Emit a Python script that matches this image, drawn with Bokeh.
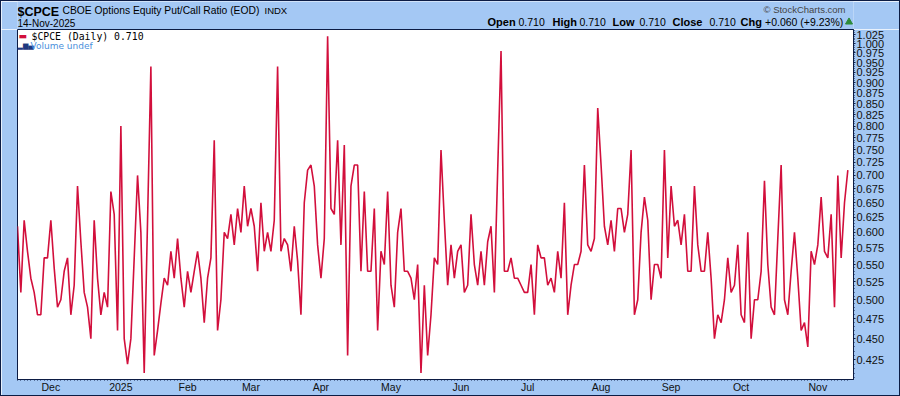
import pandas as pd
from bokeh.plotting import figure
from bokeh.layouts import column
from bokeh.models import Range1d, FixedTicker, NumeralTickFormatter, Label
from bokeh.core.properties import value
from bokeh.embed import file_html
from bokeh.resources import INLINE

# ---- data ($CPCE daily closes, 250 sessions ending 14-Nov-2025)
cpce = [
    0.61, 0.51, 0.62, 0.57, 0.53, 0.51, 0.48, 0.48, 0.56, 0.56, 0.62, 0.545, 0.49, 0.50,
    0.54, 0.56, 0.48, 0.52, 0.68, 0.585, 0.51, 0.49, 0.45, 0.62, 0.53, 0.48, 0.51, 0.49,
    0.67, 0.63, 0.46, 0.80, 0.45, 0.42, 0.45, 0.56, 0.70, 0.60, 0.41, 0.62, 0.94, 0.43,
    0.46, 0.495, 0.53, 0.52, 0.57, 0.53, 0.59, 0.53, 0.49, 0.54, 0.51, 0.54, 0.57, 0.53,
    0.47, 0.53, 0.56, 0.77, 0.46, 0.50, 0.60, 0.59, 0.63, 0.58, 0.64, 0.60, 0.68, 0.61,
    0.64, 0.61, 0.54, 0.65, 0.57, 0.60, 0.57, 0.62, 0.94, 0.57, 0.59, 0.58, 0.54, 0.61,
    0.555, 0.48, 0.65, 0.71, 0.72, 0.68, 0.58, 0.53, 0.59, 1.02, 0.64, 0.63, 0.77, 0.58,
    0.76, 0.43, 0.68, 0.72, 0.72, 0.54, 0.67, 0.54, 0.54, 0.64, 0.46, 0.57, 0.55, 0.67,
    0.52, 0.49, 0.60, 0.64, 0.54, 0.54, 0.53, 0.50, 0.55, 0.41, 0.52, 0.43, 0.48, 0.56,
    0.55, 0.75, 0.62, 0.52, 0.58, 0.53, 0.57, 0.58, 0.51, 0.52, 0.63, 0.55, 0.52, 0.57,
    0.52, 0.585, 0.61, 0.51, 0.71, 0.98, 0.54, 0.54, 0.56, 0.53, 0.53, 0.52, 0.51, 0.51,
    0.55, 0.48, 0.58, 0.56, 0.56, 0.52, 0.53, 0.51, 0.57, 0.53, 0.65, 0.48, 0.52, 0.55,
    0.55, 0.57, 0.72, 0.58, 0.57, 0.59, 0.84, 0.72, 0.61, 0.58, 0.62, 0.57, 0.64, 0.64,
    0.60, 0.63, 0.75, 0.48, 0.50, 0.60, 0.66, 0.62, 0.50, 0.55, 0.55, 0.53, 0.75, 0.56,
    0.68, 0.61, 0.62, 0.58, 0.63, 0.54, 0.54, 0.68, 0.58, 0.54, 0.54, 0.60, 0.53, 0.45,
    0.48, 0.47, 0.50, 0.56, 0.51, 0.52, 0.58, 0.48, 0.47, 0.60, 0.45, 0.50, 0.50, 0.54,
    0.69, 0.55, 0.49, 0.48, 0.59, 0.72, 0.50, 0.48, 0.54, 0.60, 0.53, 0.46, 0.47, 0.44,
    0.57, 0.55, 0.58, 0.66, 0.57, 0.56, 0.63, 0.49, 0.70, 0.56, 0.65, 0.71,
]
month_labels = ["Dec", "2025", "Feb", "Mar", "Apr", "May", "Jun", "Jul", "Aug", "Sep", "Oct", "Nov"]
y_ticks = [0.425, 0.45, 0.475, 0.5, 0.525, 0.55, 0.575, 0.6, 0.625, 0.65, 0.675, 0.7, 0.725,
           0.75, 0.775, 0.8, 0.825, 0.85, 0.875, 0.9, 0.925, 0.95, 0.975, 1.0, 1.025]
market_holidays = ["2024-11-28", "2024-12-25", "2025-01-01", "2025-01-09", "2025-01-20",
                   "2025-02-17", "2025-04-18", "2025-05-26", "2025-06-19", "2025-07-04",
                   "2025-09-01"]
quote_labels = ["Open", "High", "Low", "Close", "Chg"]
quote_values = ["0.710", "0.710", "0.710", "0.710", "+0.060 (+9.23%)"]

# trading-day calendar
days = [d for d in pd.bdate_range("2024-10-01", "2025-11-14")
        if d.strftime("%Y-%m-%d") not in market_holidays][-len(cpce):]
xs = list(range(len(cpce)))
month_idx = [i for i in range(1, len(days)) if days[i].month != days[i - 1].month]

BG = "#a4c8f4"
NAVY = "#0c1c44"
LINE = "#d20f3c"
W = 898                 # + 1px CSS border on each side = 900 x 396
HEAD_H, MAIN_H = 28, 366
FL, FR, FB = 17, 853, 379   # frame left / right / bottom in page pixels
DY = 3                  # svg alphabetic baseline lands ~3px low

# ---------------- header strip (page-pixel coordinates over the aligned frame)
head = figure(width=W, height=HEAD_H, x_range=Range1d(FL, FR), y_range=Range1d(1 + HEAD_H, 1),
              output_backend="svg", toolbar_location=None, title=None,
              x_axis_location=None, y_axis_location=None,
              min_border_left=16, min_border_right=46, min_border_top=0, min_border_bottom=0)
head.grid.visible = False
head.outline_line_color = None
head.background_fill_color = BG
head.border_fill_color = BG


def htext(xs_, ys_, texts, size, bold=False, color="#000000"):
    head.text(x=xs_, y=[v - DY for v in ys_], text=texts, text_font=value("Liberation Sans"),
              text_font_size=value(f"{size}px"),
              text_font_style=value("bold" if bold else "normal"),
              text_color=color, text_baseline="alphabetic", text_align="left")


htext([17], [14], ["$CPCE"], 12.5, bold=True)
htext([62], [13], ["CBOE Options Equity Put/Call Ratio (EOD)"], 10.3)
htext([264], [13], ["INDX"], 9.5)
htext([17], [26], ["14-Nov-2025"], 10)
htext([763], [12], ["\u00a9 StockCharts.com"], 9.5, color="#444444")
htext([487, 552, 612, 672, 740], [24] * 5, quote_labels, 11, bold=True)
htext([518, 579, 639, 709, 764.5], [24] * 5, quote_values, 10.5)
head.scatter([848.5], [21.5], marker="triangle", size=7, color="#2e8b3a")

# ---------------- main chart
p = figure(width=W, height=MAIN_H, y_axis_type="log", y_axis_location="right",
           x_range=Range1d(0, 250.7), y_range=Range1d(0.4029, 1.039),
           output_backend="svg", toolbar_location=None, title=None,
           min_border_left=16, min_border_right=46, min_border_top=0, min_border_bottom=16)
p.background_fill_color = "white"
p.border_fill_color = BG
p.outline_line_color = NAVY
p.outline_line_width = 1
p.grid.visible = False

p.line(xs, cpce, color=LINE, line_width=1.6)

# x axis
xa = p.xaxis[0]
xa.ticker = FixedTicker(ticks=month_idx, minor_ticks=xs)
xa.major_label_overrides = {i: lbl for i, lbl in zip(month_idx, month_labels)}
xa.major_label_text_font = "Liberation Sans"
xa.major_label_text_font_size = "10.5px"
xa.major_label_text_color = "#111111"
xa.major_label_standoff = 0
xa.axis_line_color = NAVY
xa.major_tick_line_color = NAVY
xa.minor_tick_line_color = NAVY
xa.major_tick_out = 1
xa.major_tick_in = 0
xa.minor_tick_out = 1
xa.minor_tick_in = 0

# y axis (right, log)
ya = p.yaxis[0]
minor = [round(0.405 + 0.005 * k, 3) for k in range(128)]
ya.ticker = FixedTicker(ticks=y_ticks, minor_ticks=minor)
ya.formatter = NumeralTickFormatter(format="0.000")
ya.major_label_text_font = "Liberation Sans"
ya.major_label_text_font_size = "11px"
ya.major_label_text_color = "#111111"
ya.major_label_standoff = 1
ya.axis_line_color = NAVY
ya.major_tick_line_color = NAVY
ya.minor_tick_line_color = NAVY
ya.major_tick_out = 2
ya.major_tick_in = 0
ya.minor_tick_out = 1
ya.minor_tick_in = 0


def txt(text, x, y, size, color="#000000", font="Liberation Sans"):
    # x, y: page position (left / baseline); frame-relative screen units, y up
    p.add_layout(Label(x=x - FL, y=FB - (y - DY), x_units="screen", y_units="screen",
                       text=text, text_font=font, text_font_size=f"{size}px",
                       text_color=color, text_baseline="alphabetic", text_align="left"))


# legend inside plot
txt("\u25ac", 18, 38, 9, color=LINE, font="DejaVu Sans")
txt("$CPCE (Daily) 0.710", 31, 39, 9.8, font="DejaVu Sans Mono")
txt("\u2582\u2586\u2584", 17, 48, 7, color="#1f3a80", font="DejaVu Sans")
txt("Volume undef", 30, 48, 9, color="#4a8fdc", font="DejaVu Sans")

layout = column(head, p, spacing=0, styles={"border": "1px solid " + NAVY})
open("out.html", "w").write(file_html(layout, INLINE))
